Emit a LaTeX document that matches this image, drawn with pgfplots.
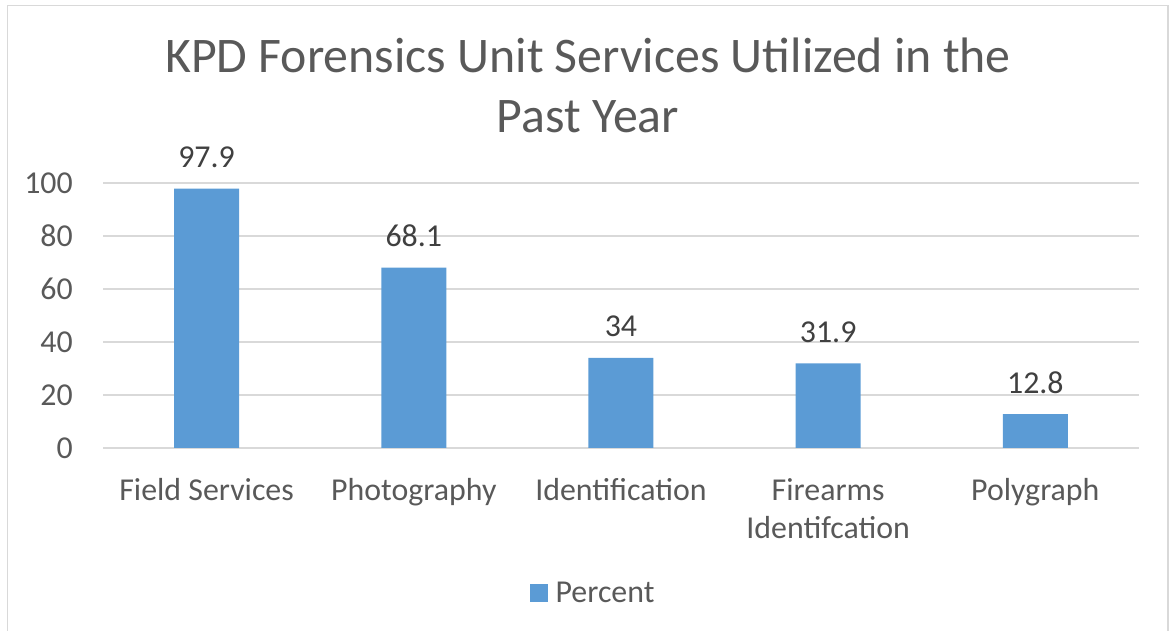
\documentclass[border=0pt]{standalone}
\usepackage{pgfplots}
\pgfplotsset{compat=1.18}
\usepackage{fontspec}
\setmainfont{Carlito}
\definecolor{barblue}{HTML}{5B9BD5}
\definecolor{txtgray}{HTML}{595959}
\definecolor{lblgray}{HTML}{404040}
\definecolor{gridgray}{HTML}{D9D9D9}
\begin{document}
\begin{tikzpicture}[x=1bp,y=1bp]
\path[use as bounding box] (0,0) rectangle (1170,631);
\draw[gridgray, line width=1.3bp] (7.5,-10) -- (7.5,625.5) -- (1168,625.5) -- (1168,-10);
\node[anchor=base, text=txtgray, font=\fontsize{50}{60}\selectfont] at (588,558) {KPD Forensics Unit Services Utilized in the};
\node[anchor=base, text=txtgray, font=\fontsize{50}{60}\selectfont] at (588,498) {Past Year};
\begin{axis}[
    at={(103bp,183bp)}, anchor=south west,
    scale only axis, width=1036bp, height=265bp,
    xmin=-0.5, xmax=4.5, ymin=0, ymax=100,
    ytick={0,20,...,100},
    xtick={0,1,2,3,4},
    xticklabels={Field Services,Photography,Identification,Firearms\\Identifcation,Polygraph},
    axis line style={draw=none},
    major tick length=0pt,
    ymajorgrids, major grid style={gridgray, line width=1.3bp},
    yticklabel style={text=txtgray, font=\fontsize{32}{38}\selectfont, inner sep=0pt, xshift=-30bp},
    xticklabel style={text=txtgray, font=\fontsize{32}{39}\selectfont, align=center, anchor=north, inner sep=0pt, yshift=-30bp},
    /pgf/number format/assume math mode=true,
    ybar, bar width=65bp,
    nodes near coords,
    every node near coord/.append style={text=lblgray, font=\fontsize{32}{38}\selectfont, anchor=base, inner sep=0pt, yshift=21bp},
    point meta=explicit symbolic,
    legend style={at={(0.473,-0.548)}, anchor=center, draw=none, font=\fontsize{32}{38}\selectfont, text=txtgray},
    legend image code/.code={\fill[#1] (0bp,-9bp) rectangle (18bp,9bp); \path (24bp,0bp);},
]
\addplot[fill=barblue, draw=none] coordinates {(0,97.9)[97.9] (1,68.1)[68.1] (2,34)[34] (3,31.9)[31.9] (4,12.8)[12.8]};
\addlegendentry{Percent}
\end{axis}
\end{tikzpicture}
\end{document}
